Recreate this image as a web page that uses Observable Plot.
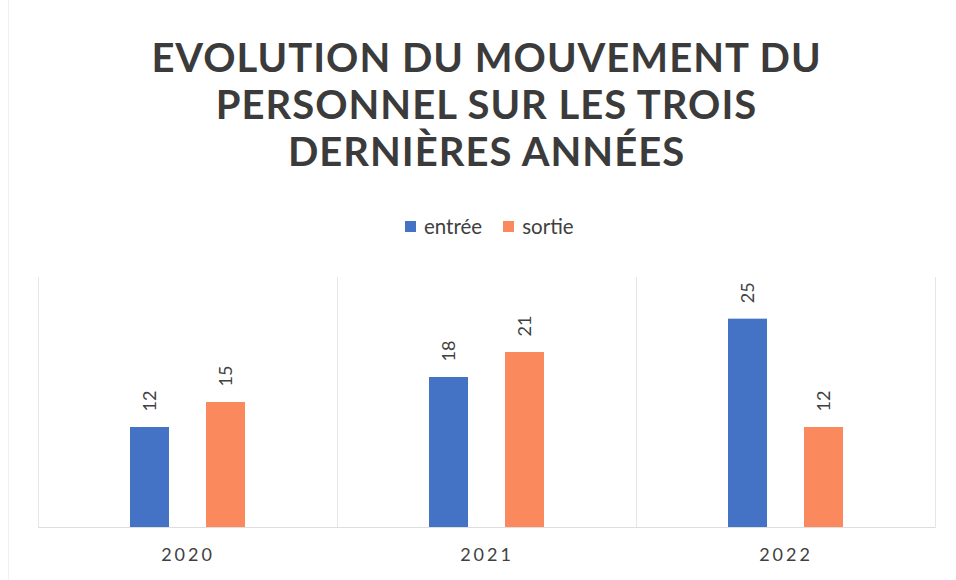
<!DOCTYPE html>
<html>
<head>
<meta charset="utf-8">
<script src="https://cdn.jsdelivr.net/npm/d3@7"></script>
<script src="https://cdn.jsdelivr.net/npm/@observablehq/plot@0.6"></script>
<style>
  html, body { margin: 0; padding: 0; background: #fff; }
  #wrap { position: relative; width: 956px; height: 580px; overflow: hidden; font-family: Lato, "Open Sans", sans-serif; }
  #border { position: absolute; left: 8px; top: 0; width: 1px; height: 580px; background: #f1f1f1; }
  #title { position: absolute; left: 38px; width: 897px; top: 34px; text-align: center; font-weight: 700; font-size: 40px; line-height: 47px; letter-spacing: 1px; color: #3b3b3b; }
  #legend { position: absolute; left: 405px; top: 214px; height: 24px; display: flex; align-items: center; font-size: 20.5px; color: #404040; }
  #legend .item { display: flex; align-items: center; margin-right: 21px; }
  #legend .sw { width: 11px; height: 11px; margin-right: 8px; }
  #chart { position: absolute; left: 0; top: 250px; }
  #chart [aria-label^="fx-axis"] text { letter-spacing: 3px; }
</style>
</head>
<body>
<div id="wrap">
  <div id="border"></div>
  <div id="title">EVOLUTION DU MOUVEMENT DU<br>PERSONNEL SUR LES TROIS<br>DERNIÈRES ANNÉES</div>
  <div id="legend"></div>
  <div id="chart"></div>
</div>
<script>
const years = ["2020", "2021", "2022"];
const series = ["entrée", "sortie"];
const entree = [12, 18, 25];
const sortie = [15, 21, 12];
const colors = ["#4472C4", "#FA8A5D"];

const data = years.flatMap((y, i) => [
  {year: y, serie: series[0], value: entree[i]},
  {year: y, serie: series[1], value: sortie[i]}
]);

const legend = document.getElementById("legend");
series.forEach((s, i) => {
  const it = document.createElement("div");
  it.className = "item";
  const sw = document.createElement("div");
  sw.className = "sw";
  sw.style.background = colors[i];
  const t = document.createElement("span");
  t.textContent = s;
  it.appendChild(sw); it.appendChild(t);
  legend.appendChild(it);
});

const chart = Plot.plot({
  width: 956,
  height: 330,
  marginTop: 27,
  marginBottom: 53,
  marginLeft: 38,
  marginRight: 21,
  style: {fontFamily: "Lato, 'Open Sans', sans-serif", fontSize: "18px", color: "#404040", background: "transparent"},
  fx: {domain: years, padding: 0, label: null, tickSize: 0, tickPadding: 21},
  x: {domain: series, paddingInner: 0.4805, paddingOuter: 1.182, axis: null},
  y: {domain: [0, 30], axis: null},
  color: {domain: series, range: colors},
  marks: [
    Plot.frame({anchor: "left", stroke: "#e6e6e6"}),
    Plot.frame({anchor: "right", stroke: "#e6e6e6"}),
    Plot.ruleY([0], {stroke: "#dedede"}),
    Plot.barY(data, {fx: "year", x: "serie", y: "value", fill: "serie"}),
    Plot.text(data, {fx: "year", x: "serie", y: "value", text: d => String(d.value), rotate: -90, textAnchor: "start", dy: -16, fontSize: 18, fill: "#404040"})
  ]
});
document.getElementById("chart").appendChild(chart);
</script>
</body>
</html>
